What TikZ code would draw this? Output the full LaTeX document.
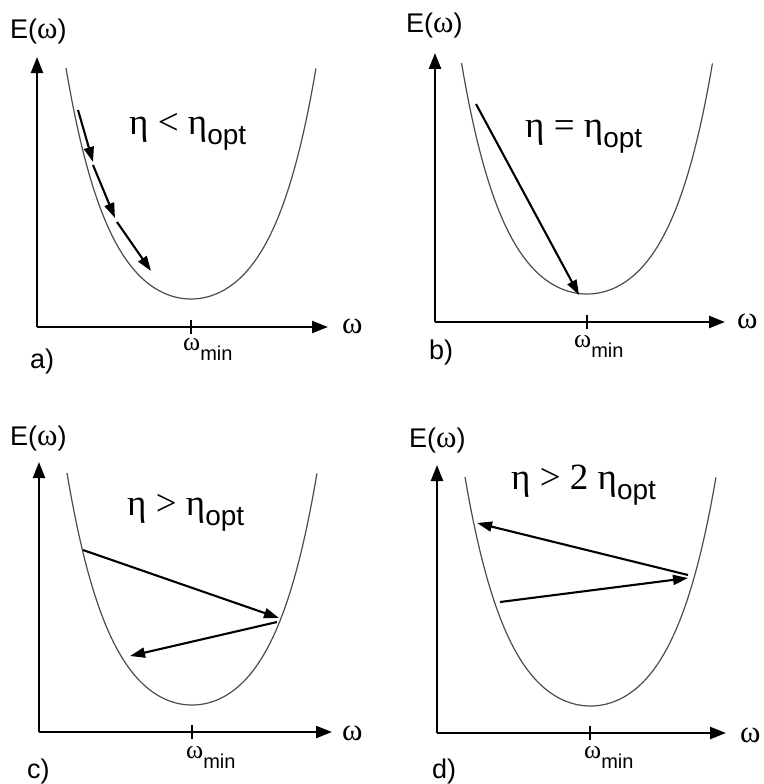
\documentclass[tikz,border=0pt]{standalone}
\usepackage{fontspec}
\setmainfont{Liberation Sans}
\newfontfamily\grk{Liberation Serif}
\usetikzlibrary{arrows.meta}
\newcommand\drawbowl[4]{\draw[curve] plot[domain=-1:1,samples=121,variable=\t] ({#1+#3*\t},{#2-#4*(cosh(2.85*\t)-1)/7.673});}
\tikzset{
  axis/.style={line width=2.4pt,-{Triangle[length=16pt,width=12pt]}},
  curve/.style={line width=1.2pt,draw=black!70},
  step arrow/.style={line width=2.1pt,-{Triangle[length=15pt,width=10pt]}},
  txt/.style={inner sep=0pt,anchor=base west},
  tick/.style={line width=1.3pt}
}
\newcommand\bigtxt{\fontsize{27}{32}\selectfont}
\newcommand\om{{\fontsize{31}{34}\selectfont\grk ω}}
\newcommand\etatxt{\fontsize{37}{44}\selectfont}
\newcommand\opttxt[1]{\raisebox{-10pt}{\fontsize{28}{32}\selectfont #1}}
\newcommand\wmin{{\fontsize{26}{30}\selectfont\grk ω}\raisebox{-10pt}{\fontsize{20}{24}\selectfont min}}
\begin{document}
\begin{tikzpicture}[x=1pt,y=-1pt]
\useasboundingbox (0,0) rectangle (763,784);
\fill[white] (0,0) rectangle (763,784);
% ---------- panel a ----------
\coordinate (a0) at (37,327);
\coordinate (ay) at (37,57);
\coordinate (ax) at (328,327);
\draw[axis] (a0) -- (ay);
\draw[axis] (a0) -- (ax);
\draw[tick] (191,320) -- (191,334);
\drawbowl{191}{299}{125}{231}
\node[txt] (aE) at (10,38) {\bigtxt E(\om)};
\node[txt] (aw) at (342,333) {\om};
\node[txt] (awm) at (183,350) {\wmin};
\node[txt] (alab) at (30,368) {\bigtxt a)};
\node[txt] (aeta) at (129,134) {\etatxt\grk η < η\opttxt{\normalfont opt}};
\coordinate (a1) at (78,110);
\coordinate (a2) at (93,162);
\coordinate (a3) at (93,165);
\coordinate (a4) at (115,218);
\coordinate (a5) at (117,222);
\coordinate (a6) at (151,271);
\draw[step arrow] (a1) -- (a2);
\draw[step arrow] (a3) -- (a4);
\draw[step arrow] (a5) -- (a6);
% ---------- panel b ----------
\coordinate (b0) at (435,322);
\coordinate (by) at (435,53);
\coordinate (bx) at (725,322);
\draw[axis] (b0) -- (by);
\draw[axis] (b0) -- (bx);
\draw[tick] (587,315) -- (587,329);
\drawbowl{587}{294}{125.5}{231}
\node[txt] (bE) at (406,33) {\bigtxt E(\om)};
\node[txt] (bw) at (737,328) {\om};
\node[txt] (bwm) at (574,347) {\wmin};
\node[txt] (blab) at (429,359) {\bigtxt b)};
\node[txt] (beta) at (525,137) {\etatxt\grk η = η\opttxt{\normalfont opt}};
\coordinate (b1) at (476,104);
\coordinate (b2) at (579,295);
\draw[step arrow] (b1) -- (b2);
% ---------- panel c ----------
\coordinate (c0) at (39,732);
\coordinate (cy) at (39,462);
\coordinate (cx) at (332,732);
\draw[axis] (c0) -- (cy);
\draw[axis] (c0) -- (cx);
\draw[tick] (192,725) -- (192,739);
\drawbowl{192}{705}{125}{232}
\node[txt] (cE) at (10,445) {\bigtxt E(\om)};
\node[txt] (cw) at (342,740) {\om};
\node[txt] (cwm) at (186,758) {\wmin};
\node[txt] (clab) at (27,778) {\bigtxt c)};
\node[txt] (ceta) at (127,515) {\etatxt\grk η > η\opttxt{\normalfont opt}};
\coordinate (c1) at (83,550);
\coordinate (c2) at (279,618);
\coordinate (c3) at (277,622);
\coordinate (c4) at (130,656);
\draw[step arrow] (c1) -- (c2);
\draw[step arrow] (c3) -- (c4);
% ---------- panel d ----------
\coordinate (d0) at (437,733);
\coordinate (dy) at (437,465);
\coordinate (dx) at (726,733);
\draw[axis] (d0) -- (dy);
\draw[axis] (d0) -- (dx);
\draw[tick] (590,726) -- (590,740);
\drawbowl{590.5}{706}{125.5}{229}
\node[txt] (dE) at (409,447) {\bigtxt E(\om)};
\node[txt] (dw) at (740,742) {\om};
\node[txt] (dwm) at (584,758) {\wmin};
\node[txt] (dlab) at (432,778) {\bigtxt d)};
\node[txt] (deta) at (511,489) {\etatxt\grk η > 2 η\opttxt{\normalfont opt}};
\coordinate (d1) at (688,575);
\coordinate (d2) at (477,523);
\coordinate (d3) at (500,602);
\coordinate (d4) at (688,578);
\draw[step arrow] (d1) -- (d2);
\draw[step arrow] (d3) -- (d4);
\end{tikzpicture}
\end{document}
